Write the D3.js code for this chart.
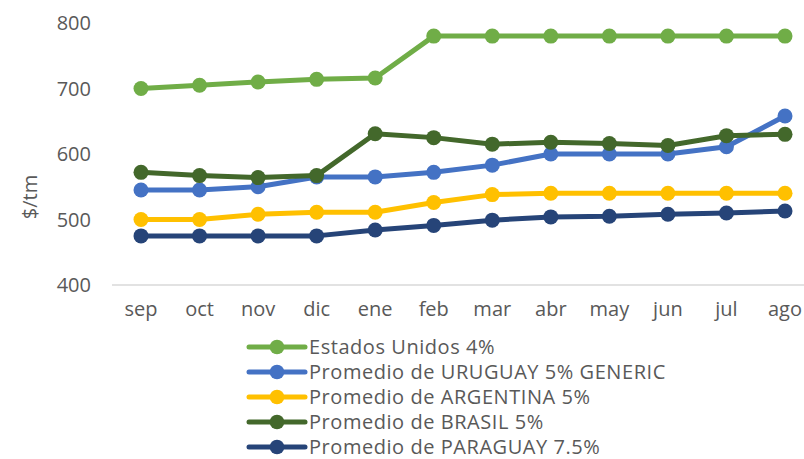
<!DOCTYPE html>
<html>
<head>
<meta charset="utf-8">
<script src="https://cdn.jsdelivr.net/npm/d3@7"></script>
<style>
  body { margin: 0; background: #fff; }
  text { font-family: "Open Sans", sans-serif; fill: #595959; font-size: 20px; }
</style>
</head>
<body>
<div id="container"></div>
<script>
const months = ["sep", "oct", "nov", "dic", "ene", "feb", "mar", "abr", "may", "jun", "jul", "ago"];
const yTicks = [400, 500, 600, 700, 800];

const estados = [700, 705, 710, 714, 716, 780, 780, 780, 780, 780, 780, 780];
const uruguay = [545, 545, 550, 565, 565, 572, 583, 600, 600, 600, 611, 658];
const argentina = [500, 500, 508, 511, 511, 526, 538, 540, 540, 540, 540, 540];
const brasil = [572, 567, 564, 567, 631, 625, 615, 618, 616, 613, 628, 630];
const paraguay = [475, 475, 475, 475, 484, 491, 499, 504, 505, 508, 510, 513];

const seriesNames = ["Estados Unidos 4%", "Promedio de URUGUAY 5% GENERIC", "Promedio de ARGENTINA 5%", "Promedio de BRASIL 5%", "Promedio de PARAGUAY 7.5%"];
const seriesColors = ["#70ad47", "#4472c4", "#ffc000", "#43682b", "#264478"];
const seriesValues = [estados, uruguay, argentina, brasil, paraguay];

const width = 804;
const height = 459;

const svg = d3.select("#container")
  .append("svg")
  .attr("width", width)
  .attr("height", height);

const x = d3.scalePoint()
  .domain(months)
  .range([141, 785]);

const y = d3.scaleLinear()
  .domain([400, 800])
  .range([285, 23]);

// baseline
svg.append("line")
  .attr("x1", 112)
  .attr("x2", width)
  .attr("y1", y(400))
  .attr("y2", y(400))
  .attr("stroke", "#d9d9d9")
  .attr("stroke-width", 1.5);

// y tick labels
svg.selectAll(".ytick")
  .data(yTicks)
  .join("text")
  .attr("class", "ytick")
  .attr("x", 91)
  .attr("y", d => y(d))
  .attr("dy", "0.36em")
  .attr("text-anchor", "end")
  .text(d => d);

// x tick labels
svg.selectAll(".xtick")
  .data(months)
  .join("text")
  .attr("class", "xtick")
  .attr("x", d => x(d))
  .attr("y", 316)
  .attr("text-anchor", "middle")
  .text(d => d);

// axis title
svg.append("text")
  .attr("transform", "translate(30,197) rotate(-90)")
  .attr("dy", "0.36em")
  .attr("text-anchor", "middle")
  .text("$/tm");

const line = d3.line()
  .x((d, i) => x(months[i]))
  .y(d => y(d));

seriesValues.forEach((vals, s) => {
  const g = svg.append("g");
  g.append("path")
    .attr("d", line(vals))
    .attr("fill", "none")
    .attr("stroke", seriesColors[s])
    .attr("stroke-width", 5)
    .attr("stroke-linejoin", "round");
  g.selectAll("circle")
    .data(vals)
    .join("circle")
    .attr("cx", (d, i) => x(months[i]))
    .attr("cy", d => y(d))
    .attr("r", 7.5)
    .attr("fill", seriesColors[s]);
});

// legend
const legend = svg.append("g");
seriesNames.forEach((name, s) => {
  const ly = 347 + s * 25;
  legend.append("line")
    .attr("x1", 249)
    .attr("x2", 305)
    .attr("y1", ly)
    .attr("y2", ly)
    .attr("stroke", seriesColors[s])
    .attr("stroke-width", 5)
    .attr("stroke-linecap", "round");
  legend.append("circle")
    .attr("cx", 277)
    .attr("cy", ly)
    .attr("r", 7.3)
    .attr("fill", seriesColors[s]);
  legend.append("text")
    .attr("x", 309)
    .attr("y", ly)
    .attr("dy", "0.34em")
    .style("letter-spacing", "0.55px")
    .text(name);
});
</script>
</body>
</html>
